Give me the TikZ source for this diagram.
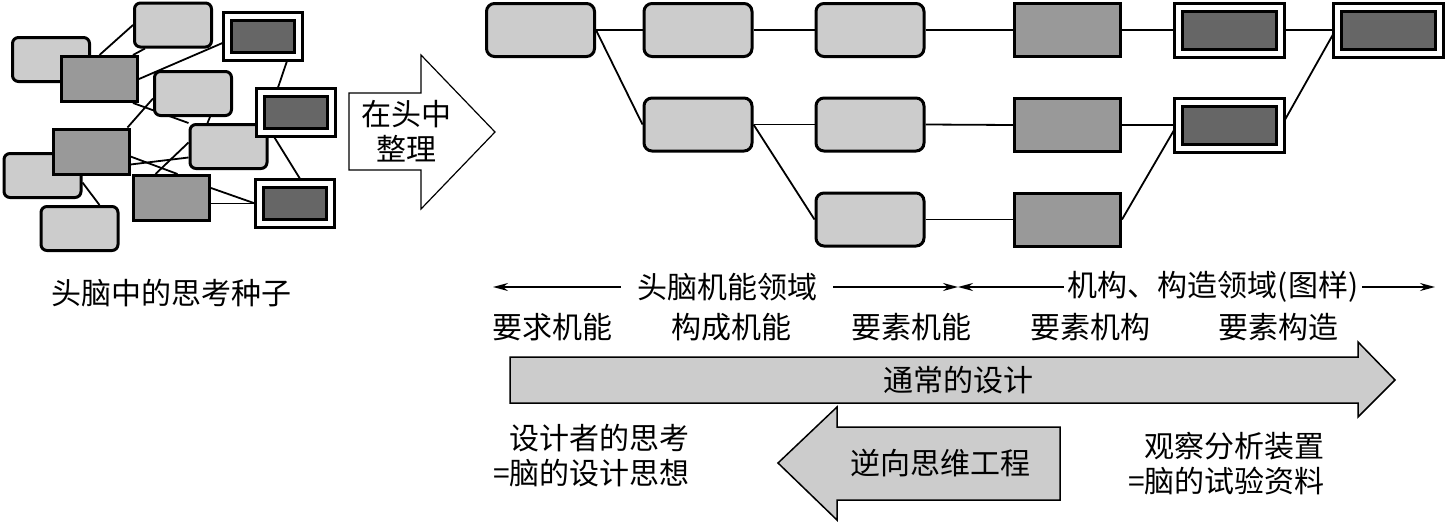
\documentclass[tikz,border=0pt]{standalone}
\usepackage{fontspec}
\setmainfont{Noto Sans CJK SC}
\usepackage{xcolor}
\usepackage{tikz}
\usetikzlibrary{positioning, arrows.meta, backgrounds, calc}
\definecolor{boxlight}{HTML}{CCCCCC}
\definecolor{boxmid}{HTML}{999999}
\definecolor{boxdark}{HTML}{666666}
\tikzstyle{link} = [line width=1.8pt]
\tikzstyle{rangeline} = [line width=1.5pt, -{Stealth[length=15pt, width=8pt]}]

\begin{document}
\begin{tikzpicture}[x=1pt, y=-1pt, inner sep=0pt,
    font=\fontsize{30}{35}\selectfont,
    idea/.style={rectangle, draw, line width=3pt, fill=boxlight, rounded corners=6pt, minimum width=77pt, minimum height=44pt},
    mech/.style={rectangle, draw, line width=3pt, fill=boxmid, minimum width=76pt, minimum height=45pt},
    outbox/.style={rectangle, draw, line width=3pt, double=white, double distance=5pt, fill=boxdark, minimum width=71pt, minimum height=40pt},
    func/.style={idea, rounded corners=8pt, minimum width=108pt, minimum height=53pt},
    elem/.style={mech, minimum width=106pt, minimum height=53pt},
    final/.style={outbox, minimum width=102pt, minimum height=46pt},
    bigarrow/.style={draw, line width=1.5pt, fill=boxlight},
    thinkarrow/.style={draw, line width=1.2pt, fill=white}
]
    \useasboundingbox (0,0) rectangle (1447,522);

    % Seeds of thought - scattered
    \node[idea] (l1) at (173,25) {};
    \node[idea] (l2) at (51,59.5) {};
    \node[idea] (l3) at (193,93.5) {};
    \node[idea] (l4) at (228.5,146.5) {};
    \node[idea] (l5) at (42.5,175.5) {};
    \node[idea] (l6) at (79.5,228.5) {};
    \node[mech] (m1) at (99.5,79) {};
    \node[mech] (m2) at (91,151.5) {};
    \node[mech] (m3) at (171.5,198) {};
    \node[outbox] (d1) at (263,36.5) {};
    \node[outbox] (d2) at (296,112) {};
    \node[outbox] (d3) at (295,203.5) {};
    \node (seeds) at (171,293) {头脑中的思考种子};

    % Arrange in the head
    \draw[thinkarrow] (349,93) -- (421,93) -- (421,55) -- (495,132) -- (421,209) -- (421,170) -- (349,170) -- cycle;
    \node[align=center] (arrange) at (406,131) {在头中\\整理};

    % Ordered tree
    \node[func] (req) at (540.5,30) {};
    \node[func] (con1) at (698,30) {};
    \node[func] (con2) at (698,124.5) {};
    \node[func] (ele1) at (870,30) {};
    \node[func] (ele2) at (870,124.5) {};
    \node[func] (ele3) at (870,219.5) {};
    \node[elem] (mec1) at (1067.5,30) {};
    \node[elem] (mec2) at (1067.5,125) {};
    \node[elem] (mec3) at (1067.5,219.5) {};
    \node[final] (str1) at (1229.5,30) {};
    \node[final] (str2) at (1229.5,125) {};
    \node[final] (str3) at (1388,30) {};

    % Domains
    \coordinate (fnleft) at (493,287);
    \coordinate (split) at (958,287);
    \coordinate (stright) at (1435,287);
    \node[inner xsep=16pt] (fnlabel) at (727,287) {头脑机能领域};
    \node[inner xsep=4pt] (stlabel) at (1213,287) {机构、构造领域(图样)};
    \draw[rangeline] (fnlabel.west) -- (fnleft);
    \draw[rangeline] (fnlabel.east) -- (split);
    \draw[rangeline] (stlabel.west) -- (split);
    \draw[rangeline] (stlabel.east) -- (stright);

    \node (lreq) at (552,327) {要求机能};
    \node (lcon) at (731,327) {构成机能};
    \node (lele) at (911,327) {要素机能};
    \node (lmec) at (1090,327) {要素机构};
    \node (lstr) at (1278,327) {要素构造};

    % Design directions
    \draw[bigarrow] (510,357) -- (1358,357) -- (1358,342) -- (1395,380) -- (1358,417) -- (1358,403) -- (510,403) -- cycle;
    \node (usual) at (958,380) {通常的设计};
    \draw[bigarrow] (1060,427) -- (837,427) -- (837,407) -- (778,463) -- (837,520) -- (837,500) -- (1060,500) -- cycle;
    \node (reverse) at (940,463) {逆向思维工程};

    \node[align=right, anchor=east] (designer) at (690,456) {设计者的思考\\=脑的设计思想};
    \node[align=right, anchor=east] (observe) at (1325,464) {观察分析装置\\=脑的试验资料};

    % Connections behind the boxes
    \begin{scope}[on background layer]
        \fill[white] (0,0) rectangle (1447,522);
        \draw[link] (m1.north) -- (l1.west);
        \draw[link] ($(m1.north east)+(-6,0)$) -- ($(l1.south west)+(12,0)$);
        \draw[link] (m1.east) -- ($(d1.west)+(0,5)$);
        \draw[link] ($(m2.north east)+(-3,0)$) -- ($(l3.west)+(0,5)$);
        \draw[link] ($(m1.south east)+(-6,0)$) -- (l4.north west);
        \draw[link] ($(l3.south)+(17,0)$) -- ($(l4.north)+(-21,0)$);
        \draw[link] ($(d1.south)+(25,0)$) -- ($(d2.north)+(-19,0)$);
        \draw[link] ($(d2.south)+(-24,0)$) -- ($(d3.north)+(7,0)$);
        \draw[link] ($(m2.east)+(0,13)$) -- ($(l4.west)+(0,11)$);
        \draw[link] ($(m2.east)+(0,5)$) -- ($(m3.north)+(6,0)$);
        \draw[link] ($(m3.north)+(-16,0)$) -- ($(l4.west)+(0,-4)$);
        \draw[link] ($(m3.east)+(0,-10)$) -- ($(d3.west)+(0,1)$);
        \draw[link] (d3.west) -- (d3.west -| m3.east);
        \draw[link] ($(l5.east)+(0,7)$) -- ($(l6.north)+(20,0)$);

        \draw[link] (req.east) -- (con1.west);
        \draw[link] (req.east) -- (con2.west);
        \draw[link] (con1.east) -- (ele1.west);
        \draw[link] (con2.east) -- (ele2.west);
        \draw[link] (con2.east) -- (ele3.west);
        \draw[link] (ele1.east) -- (mec1.west);
        \draw[link] (ele2.east) -- (mec2.west);
        \draw[link] (ele3.east) -- (mec3.west);
        \draw[link] (mec1.east) -- (str1.west);
        \draw[link] (mec2.east) -- (str2.west);
        \draw[link] (mec3.east) -- (str2.west);
        \draw[link] (str1.east) -- (str3.west);
        \draw[link] (str2.east) -- (str3.west);
    \end{scope}

\end{tikzpicture}
\end{document}
